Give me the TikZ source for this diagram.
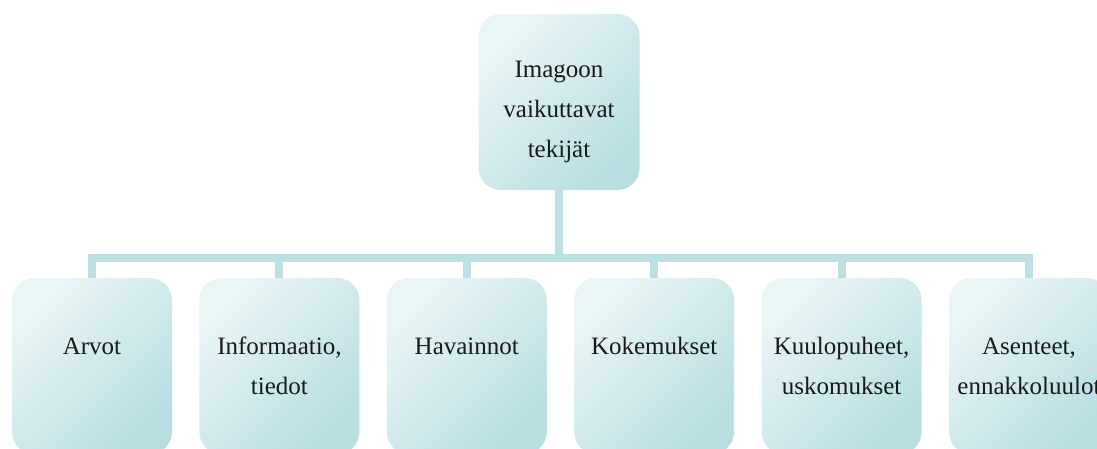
\documentclass[tikz,border=0pt]{standalone}
\usepackage{fontspec}
\setmainfont{Liberation Serif}
\usetikzlibrary{positioning,backgrounds}
\definecolor{cLight}{HTML}{EAF5F6}
\definecolor{cDark}{HTML}{B8DEE2}
\definecolor{cLine}{HTML}{BCE0E4}
\definecolor{cText}{HTML}{1A1A1A}

\begin{document}
\begin{tikzpicture}[
  x=1pt, y=-1pt,
  font=\fontsize{25}{40}\selectfont,
  node distance=0pt and 27pt,
  tbox/.style={rounded corners=22pt, top color=cLight, bottom color=cDark,
               shading angle=45, minimum width=160pt, minimum height=176pt,
               align=center, text=cText, inner sep=0pt},
  conn/.style={draw=cLine, line width=8pt},
]
\useasboundingbox (0,0) rectangle (1097,448);
\clip (0,0) rectangle (1097,448);

% ---- Top ----
\node[tbox, minimum width=161pt] (imago) at (559,102)
  {\rule{0pt}{37pt}Imagoon\\vaikuttavat\\tekijät};

% ---- Children ----
\node[tbox] (arvot) at (92,366) {Arvot\\\mbox{}};
\node[tbox, right=of arvot] (info) {Informaatio,\\tiedot};
\node[tbox, right=of info] (havainnot) {Havainnot\\\mbox{}};
\node[tbox, right=of havainnot] (kokemukset) {Kokemukset\\\mbox{}};
\node[tbox, right=of kokemukset] (kuulo) {Kuulopuheet,\\uskomukset};
\node[tbox, right=of kuulo] (asenteet) {Asenteet,\\ennakkoluulot};

% ---- Connectors ----
\coordinate (bus) at (559,258);
\begin{scope}[on background layer]
  \draw[conn] (imago.south) -- (bus) -| (arvot.north);
  \draw[conn] (bus) -| (info.north);
  \draw[conn] (bus) -| (havainnot.north);
  \draw[conn] (bus) -| (kokemukset.north);
  \draw[conn] (bus) -| (kuulo.north);
  \draw[conn] (bus) -| (asenteet.north);
\end{scope}

\end{tikzpicture}
\end{document}
